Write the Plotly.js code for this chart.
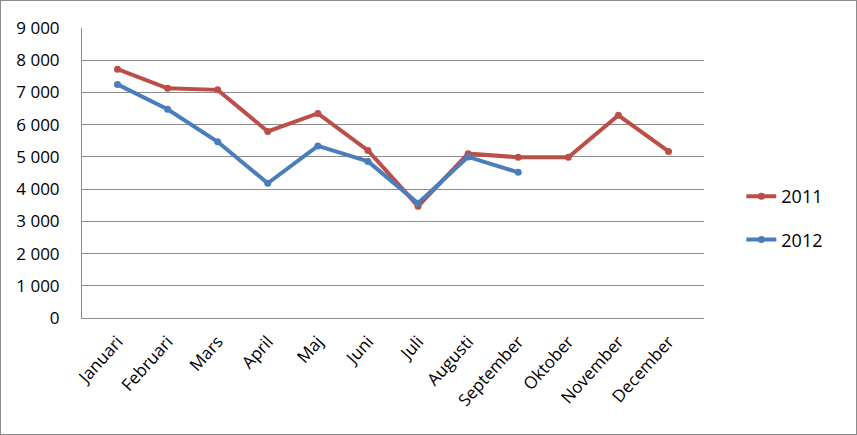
<!DOCTYPE html>
<html>
<head>
<meta charset="utf-8">
<script src="https://cdn.plot.ly/plotly-3.0.1.min.js"></script>
<style>
  html, body { margin: 0; padding: 0; background: #fff; }
  #graph { width: 855px; height: 433px; border: 1px solid #8c8c8c; }
</style>
</head>
<body>
<div id="graph"></div>
<script>
/* ----- data ----- */
var months = ['Januari', 'Februari', 'Mars', 'April', 'Maj', 'Juni', 'Juli',
              'Augusti', 'September', 'Oktober', 'November', 'December'];
var sales2011 = [7720, 7130, 7080, 5790, 6350, 5200, 3470, 5100, 4990, 4990, 6290, 5170];
var sales2012 = [7250, 6480, 5470, 4180, 5340, 4860, 3560, 5000, 4520];
var yTicks = [0, 1000, 2000, 3000, 4000, 5000, 6000, 7000, 8000, 9000];

var FONT = '"Open Sans", "Liberation Sans", sans-serif';

var trace2011 = {
    x: months,
    y: sales2011,
    mode: 'lines+markers',
    name: '2011',
    legendgroup: 'a',
    line: {color: '#bc4e48', width: 4},
    marker: {color: '#bc4e48', size: 7}
};

var trace2012 = {
    x: months.slice(0, sales2012.length),
    y: sales2012,
    mode: 'lines+markers',
    name: '2012',
    legendgroup: 'b',
    line: {color: '#4a7ebb', width: 4},
    marker: {color: '#4a7ebb', size: 7}
};

var layout = {
    width: 855,
    height: 433,
    margin: {l: 81, r: 152, t: 27, b: 116},
    paper_bgcolor: '#ffffff',
    plot_bgcolor: '#ffffff',
    separators: ', ',
    font: {family: FONT, size: 16, color: '#000'},
    showlegend: true,
    legend: {
        x: 1.06,
        xanchor: 'left',
        y: 0.345,
        yanchor: 'middle',
        traceorder: 'grouped',
        tracegroupgap: 17,
        font: {family: FONT, size: 18, color: '#000'},
        bgcolor: 'rgba(0,0,0,0)'
    },
    xaxis: {
        type: 'category',
        categoryarray: months,
        tickangle: -48,
        showgrid: false,
        showline: true,
        linecolor: '#8c8c8c',
        linewidth: 1,
        ticks: '',
        ticklabelstandoff: 6,
        tickfont: {family: FONT, size: 17}
    },
    yaxis: {
        range: [0, 9000],
        tickvals: yTicks,
        tickformat: ',d',
        showgrid: true,
        gridcolor: '#8c8c8c',
        gridwidth: 1,
        zeroline: false,
        showline: true,
        linecolor: '#8c8c8c',
        linewidth: 1,
        ticks: '',
        ticklabelstandoff: 18,
        tickfont: {family: FONT, size: 17}
    }
};

Plotly.newPlot('graph', [trace2011, trace2012], layout, {staticPlot: true});
</script>
</body>
</html>
